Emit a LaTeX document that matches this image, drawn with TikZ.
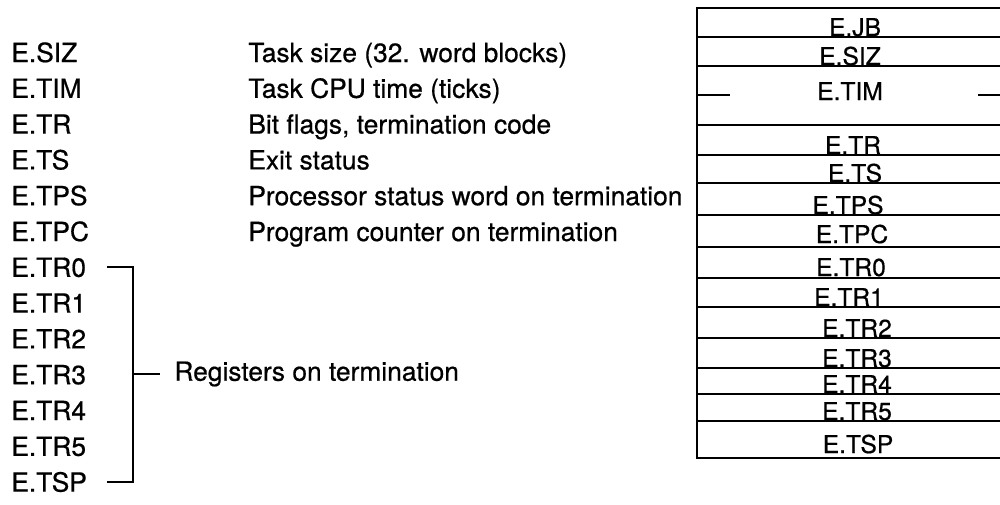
\documentclass[tikz,border=0pt]{standalone}
\usepackage{fontspec}
\setmainfont{TeX Gyre Heros}[FakeBold=0.6]
\usepackage{tikz}
\usetikzlibrary{positioning, calc}

\begin{document}
\begin{tikzpicture}[
    x=0.02cm, y=-0.02cm,
    lbl/.style={font=\fontsize{15}{18}\selectfont, anchor=base west, inner sep=0pt},
    cell/.style={font=\fontsize{14}{16}\selectfont, anchor=base, inner sep=0pt},
    boxline/.style={line width=1.6pt},
    brace/.style={line width=1.2pt}
]
\useasboundingbox (0,0) rectangle (1000,504);

% Dimensions
\def\rowh{35.8}
\def\boxl{697}
\def\boxr{1000}

% Offset names
\foreach \name [count=\i from 0] in {E.SIZ, E.TIM, E.TR, E.TS, E.TPS, E.TPC,
    E.TR0, E.TR1, E.TR2, E.TR3, E.TR4, E.TR5, E.TSP} {
    \node[lbl] (l\i) at (11, 62+\rowh*\i) {\name};
}

% Descriptions
\node[lbl] (d0) at (248, 62) {Task size (32. word blocks)};
\node[lbl] (d1) at (248, 62+\rowh) {Task CPU time (ticks)};
\node[lbl] (d2) at (248, 62+2*\rowh) {Bit flags, termination code};
\node[lbl] (d3) at (248, 62+3*\rowh) {Exit status};
\node[lbl] (d4) at (248, 62+4*\rowh) {Processor status word on termination};
\node[lbl] (d5) at (248, 62+5*\rowh) {Program counter on termination};

% Bracket for the registers
\coordinate (btop) at (107, 267);
\coordinate (bbot) at (107, 482);
\coordinate (bmid) at (133, 374);
\node[lbl, anchor=west, inner xsep=8pt] (reg) at (160, 374) {Registers on termination};
\draw[brace] (btop) -| (bmid) |- (bbot);
\draw[brace] (bmid) -- (reg.west);

% The block itself
\draw[boxline] (\boxr,8) -- (\boxl,8) -- (\boxl,458) -- (\boxr,458);
\foreach \y in {37, 66, 125, 155, 183, 215, 247, 278, 307, 338, 368, 394, 421} {
    \draw[boxline] (\boxl,\y) -- (\boxr,\y);
}
% Two-word entry ticks
\draw[boxline] (\boxl,95) -- (730,95);
\draw[boxline] (978,95) -- (\boxr,95);

% Cell labels
\foreach \name/\y/\x [count=\i] in {E.JB/36/855, E.SIZ/65/850, E.TIM/100/850,
    E.TR/154/853, E.TS/182/855, E.TPS/214/848, E.TPC/243/852, E.TR0/276/851,
    E.TR1/306/849, E.TR2/337/857, E.TR3/367/857, E.TR4/393/857,
    E.TR5/420/857, E.TSP/453/858} {
    \node[cell] (c\i) at (\x,\y) {\name};
}

\end{tikzpicture}
\end{document}
